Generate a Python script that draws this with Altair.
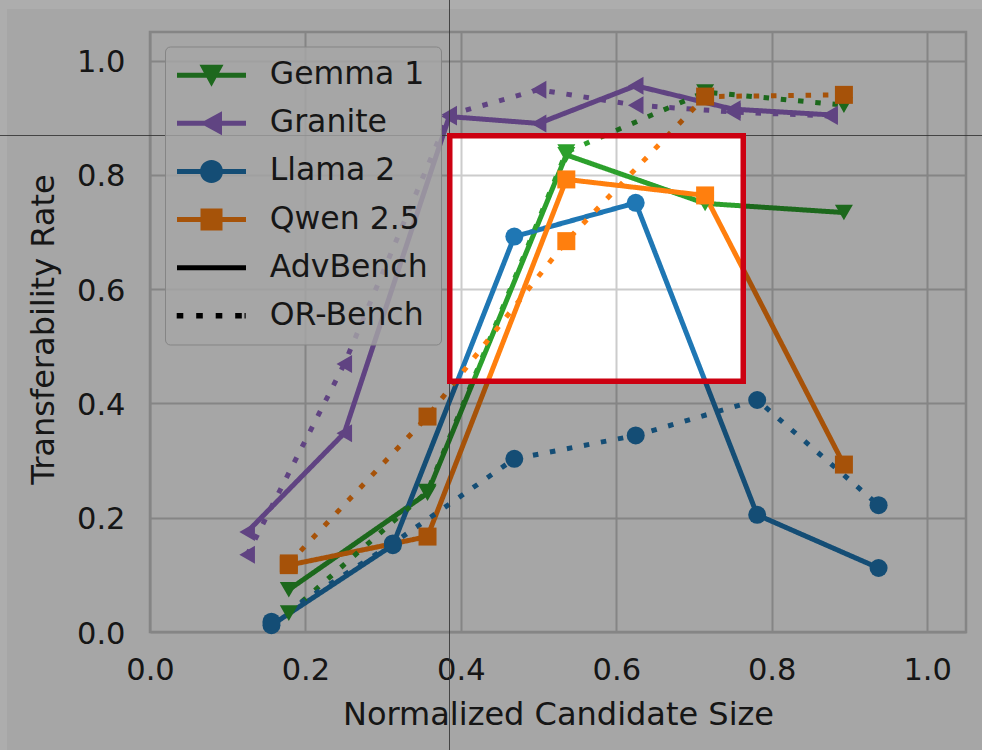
import altair as alt
import pandas as pd

# ---- data -------------------------------------------------------------
MODELS = ["Gemma 1", "Granite", "Llama 2", "Qwen 2.5"]
BENCHES = ["AdvBench", "OR-Bench"]

GEMMA_X = [0.1786, 0.3571, 0.5357, 0.7143, 0.8929]
GEMMA_ADV = [0.074, 0.243, 0.835, 0.750, 0.734]
GEMMA_OR = [0.033, 0.246, 0.840, 0.945, 0.922]

GRANITE_X = [0.125, 0.25, 0.385, 0.5, 0.625, 0.75, 0.875]
GRANITE_ADV = [0.175, 0.348, 0.902, 0.890, 0.956, 0.915, 0.905]
GRANITE_OR = [0.135, 0.469, 0.905, 0.949, 0.922, 0.910, 0.903]

LLAMA_X = [0.1563, 0.3125, 0.4688, 0.625, 0.7813, 0.9375]
LLAMA_ADV = [0.012, 0.152, 0.692, 0.751, 0.205, 0.112]
LLAMA_OR = [0.018, 0.155, 0.303, 0.344, 0.406, 0.222]

QWEN_X = [0.1786, 0.3571, 0.5357, 0.7143, 0.8929]
QWEN_ADV = [0.117, 0.167, 0.792, 0.764, 0.293]
QWEN_OR = [0.120, 0.377, 0.684, 0.937, 0.940]

TICKS = [0.0, 0.2, 0.4, 0.6, 0.8, 1.0]

SERIES = [
    ("Gemma 1", "AdvBench", GEMMA_X, GEMMA_ADV),
    ("Granite", "AdvBench", GRANITE_X, GRANITE_ADV),
    ("Llama 2", "AdvBench", LLAMA_X, LLAMA_ADV),
    ("Qwen 2.5", "AdvBench", QWEN_X, QWEN_ADV),
    ("Gemma 1", "OR-Bench", GEMMA_X, GEMMA_OR),
    ("Granite", "OR-Bench", GRANITE_X, GRANITE_OR),
    ("Llama 2", "OR-Bench", LLAMA_X, LLAMA_OR),
    ("Qwen 2.5", "OR-Bench", QWEN_X, QWEN_OR),
]
rows = []
for model, bench, xs, ys in SERIES:
    for xv, yv in zip(xs, ys):
        rows.append({"model": model, "bench": bench, "x": xv, "y": yv})
df = pd.DataFrame(rows)

# ---- styling ----------------------------------------------------------
FONT = "DejaVu Sans"
COLORS = ["#2ca02c", "#9468c8", "#1f77b4", "#ff7f0e"]
SHAPES = ["triangle-down", "triangle-left", "circle", "square"]
SIZES = [324, 324, 240, 256]
DASHES = [[1, 0], [5.5, 11.8]]

W, H = 816, 600
PAD = {"left": 150, "top": 32, "right": 16, "bottom": 118}

# legend entries: model markers plus benchmark line styles (muted tones)
LEGEND_KEYS = MODELS + BENCHES
LEGEND_COLORS = ["#1d681d", "#604482", "#144d75", "#a65309", "#000000", "#000000"]
LINE = "M-3.45,-0.25H3.45V0.25H-3.45Z"
LEGEND_PATHS = [
    LINE + "M-1.2,-1.05H1.2L0,1.15Z",
    LINE + "M1.05,-1.2V1.2L-1.15,0Z",
    LINE + "M-1.15,0A1.15,1.15,0,1,1,1.15,0A1.15,1.15,0,1,1,-1.15,0Z",
    LINE + "M-1.1,-1.1H1.1V1.1H-1.1Z",
    LINE,
    "M-3.48,-0.27H-2.82V0.27H-3.48Z"
    "M-1.53,-0.27H-0.87V0.27H-1.53Z"
    "M0.42,-0.27H1.08V0.27H0.42Z"
    "M2.37,-0.27H3.03V0.27H2.37Z"
    "M3.3,-0.27H3.42V0.27H3.3Z",
]

x_axis = alt.Axis(
    values=TICKS, format=".1f", title="Normalized Candidate Size",
    labelFont=FONT, labelFontSize=30.5, labelColor="#222222",
    labelPadding=23, labelFlush=False, ticks=False, tickSize=0, domain=False,
    grid=True, gridColor="#cccccc", gridWidth=2,
    titleFont=FONT, titleFontSize=32, titleFontWeight="normal",
    titleColor="#222222", titleY=92, titleBaseline="alphabetic", zindex=0,
)
y_axis = alt.Axis(
    values=TICKS, format=".1f", title="Transferability Rate",
    labelFont=FONT, labelFontSize=30.5, labelColor="#222222",
    labelPadding=25, labelFlush=False, labelOffset=2, ticks=False, tickSize=0,
    domain=False, grid=True, gridColor="#cccccc", gridWidth=2,
    titleFont=FONT, titleFontSize=32, titleFontWeight="normal",
    titleColor="#222222", titleAngle=270, titleX=-97, titleY=297,
    titleBaseline="alphabetic", zindex=0,
)

x_enc = alt.X("x:Q", scale=alt.Scale(domain=[0, 1.05], nice=False, zero=False), axis=x_axis)
y_enc = alt.Y("y:Q", scale=alt.Scale(domain=[0, 1.05], nice=False, zero=False), axis=y_axis)

lines = alt.Chart(df).mark_line(strokeWidth=5, strokeCap="butt", strokeJoin="round").encode(
    x=x_enc,
    y=y_enc,
    color=alt.Color("model:N", scale=alt.Scale(domain=MODELS, range=COLORS), legend=None),
    strokeDash=alt.StrokeDash("bench:N", scale=alt.Scale(domain=BENCHES, range=DASHES), legend=None),
)

points = alt.Chart(df).mark_point(filled=True, opacity=1).encode(
    x="x:Q",
    y="y:Q",
    color=alt.Color("model:N", scale=alt.Scale(domain=MODELS, range=COLORS), legend=None),
    shape=alt.Shape("model:N", scale=alt.Scale(domain=MODELS, range=SHAPES), legend=None),
    size=alt.Size("model:N", scale=alt.Scale(domain=MODELS, range=SIZES), legend=None),
)

legend = alt.Legend(
    orient="none", legendX=15, legendY=14.5, title=None, padding=13,
    fillColor="rgba(166,166,166,0.8)", strokeColor="#858585", cornerRadius=5,
    labelFont=FONT, labelFontSize=31.5, labelColor="#161616", labelLimit=400,
    rowPadding=15.1, symbolSize=400, symbolStrokeWidth=0, symbolOpacity=1,
    symbolOffset=17.75, labelOffset=42.5,
)
legend_df = pd.DataFrame({"key": LEGEND_KEYS, "x": [-1.0] * 6, "y": [0.5] * 6})
legend_layer = alt.Chart(legend_df).mark_point(filled=True, opacity=1, size=400, clip=True).encode(
    x="x:Q",
    y="y:Q",
    color=alt.Color("key:N", scale=alt.Scale(domain=LEGEND_KEYS, range=LEGEND_COLORS), legend=legend),
    shape=alt.Shape("key:N", scale=alt.Scale(domain=LEGEND_KEYS, range=LEGEND_PATHS), legend=legend),
)

# ---- spotlight: dim everything except the framed region ---------------
one = pd.DataFrame({"k": [0]})
L, T = -PAD["left"], -PAD["top"]
R, B = W + PAD["right"], H + PAD["bottom"]
HX0, HX1, HY0, HY1 = 297, 596, 101, 352      # framed region (plot pixels)
MX, MY = L + 7, T + 9                       # slightly lighter outer margin


def shade(x0, x1, y0, y1, opacity):
    return alt.Chart(one).mark_rect(color="black", opacity=opacity).encode(
        x=alt.value(x0), x2=alt.value(x1), y=alt.value(y0), y2=alt.value(y1)
    )


shades = [
    shade(MX, R, MY, HY0, 0.35),
    shade(MX, R, HY1, B, 0.35),
    shade(MX, HX0, HY0, HY1, 0.35),
    shade(HX1, R, HY0, HY1, 0.35),
    shade(L, R, T, MY, 0.32),
    shade(L, MX, MY, B, 0.32),
]

CX, CY = 299.5, 103.5
vline = alt.Chart(one).mark_rule(color="#333333", strokeWidth=1, opacity=0.85).encode(
    x=alt.value(CX), y=alt.value(T), y2=alt.value(B)
)
hline = alt.Chart(one).mark_rule(color="#333333", strokeWidth=1, opacity=0.85).encode(
    y=alt.value(CY), x=alt.value(L), x2=alt.value(R)
)

BW = 5.5
frame = alt.Chart(one).mark_rect(filled=False, color="#cc0011", strokeWidth=BW).encode(
    x=alt.value(HX0 + BW / 2), x2=alt.value(HX1 - BW / 2),
    y=alt.value(HY0 + BW / 2), y2=alt.value(HY1 - BW / 2),
)

chart = (
    alt.layer(lines, points, legend_layer, *shades, vline, hline, frame)
    .resolve_scale(color="independent", shape="independent", size="independent")
    .properties(
        width=W, height=H, padding=PAD,
        autosize=alt.AutoSizeParams(type="none"), background="white",
    )
    .configure(font=FONT)
    .configure_view(stroke="#cccccc", strokeWidth=2.5)
)

chart.save("out.html", embed_options={"renderer": "svg", "actions": False})
